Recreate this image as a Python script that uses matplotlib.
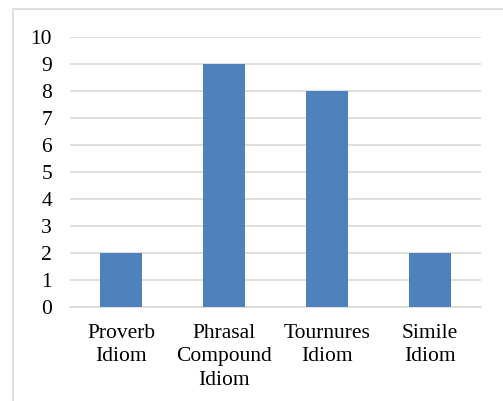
import matplotlib
matplotlib.use("Agg")
import matplotlib.pyplot as plt
from matplotlib.patches import Rectangle

categories = ["Proverb\nIdiom", "Phrasal\nCompound\nIdiom", "Tournures\nIdiom", "Simile\nIdiom"]
values = [2, 9, 8, 2]
yticks = list(range(0, 11))

W, H, DPI = 503, 401, 100
plt.rcParams["font.family"] = ["Liberation Serif", "DejaVu Serif"]

fig = plt.figure(figsize=(W / DPI, H / DPI), dpi=DPI)
fig.patch.set_facecolor("white")

# chart frame
fig.patches.append(Rectangle((12.5 / W, -0.05), 1.2, (H - 8.5) / H + 0.05,
                             transform=fig.transFigure, fill=False,
                             edgecolor="#D9D9D9", linewidth=1.2))

ax = fig.add_axes([70 / W, (H - 307) / H, (481 - 70) / W, (307 - 37) / H])
x = range(len(categories))
ax.bar(x, values, width=0.41, color="#4F81BD", zorder=3)

ax.set_xlim(-0.5, len(categories) - 0.5)
ax.set_ylim(0, 10)
ax.set_yticks(yticks)
ax.set_yticklabels([str(v) for v in yticks], fontsize=15.5)
ax.set_xticks(list(x))
ax.set_xticklabels(categories, fontsize=15.5, linespacing=1.32)

ax.grid(axis="y", color="#D9D9D9", linewidth=1.2, zorder=0)
for s in ["top", "right", "left"]:
    ax.spines[s].set_visible(False)
ax.spines["bottom"].set_color("#D9D9D9")
ax.spines["bottom"].set_linewidth(1.2)
ax.tick_params(axis="both", length=0)
ax.tick_params(axis="y", pad=13)
ax.tick_params(axis="x", pad=12)

fig.savefig("out.png", dpi=DPI)
